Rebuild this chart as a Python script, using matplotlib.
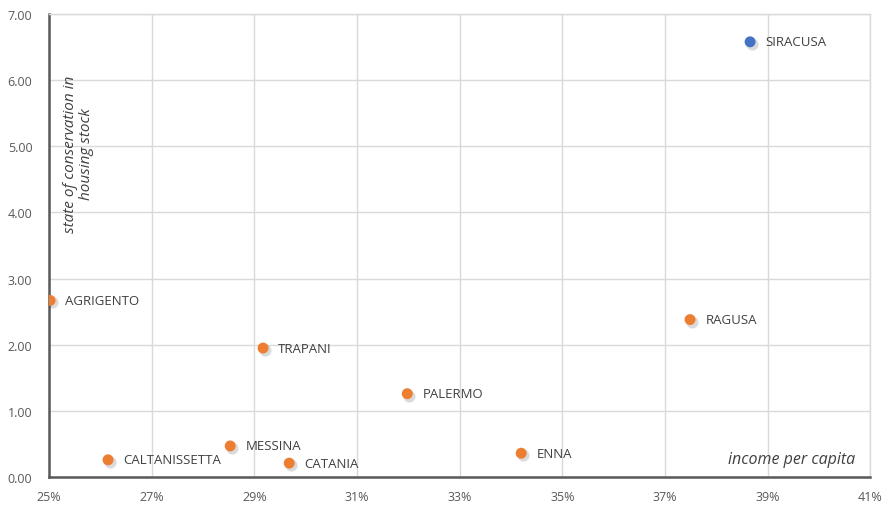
import matplotlib.pyplot as plt
from matplotlib.ticker import FuncFormatter

# province, income per capita (%), state of conservation
provinces = ['SIRACUSA', 'AGRIGENTO', 'RAGUSA', 'TRAPANI', 'PALERMO',
             'MESSINA', 'CALTANISSETTA', 'CATANIA', 'ENNA']
income = [38.66, 25.02, 37.49, 29.17, 31.98, 28.53, 26.15, 29.68, 34.20]
conservation = [6.58, 2.67, 2.38, 1.95, 1.26, 0.47, 0.26, 0.21, 0.36]
colors = ['#4472C4'] + ['#ED7D31'] * 8

xticks = [25, 27, 29, 31, 33, 35, 37, 39, 41]
yticks = [0, 1, 2, 3, 4, 5, 6, 7]

plt.rcParams['font.family'] = ['Open Sans', 'DejaVu Sans']
grey = '#595959'

fig = plt.figure(figsize=(8.82, 5.06), dpi=100)
ax = fig.add_axes([0.0556, 0.0553, 0.931, 0.915])

# soft shadow under each marker
for k, a in [(1.0, 0.04), (0.6, 0.05), (0.3, 0.06)]:
    ax.scatter([x + 0.04 for x in income], [y - 0.03 for y in conservation],
               s=58 + 30 * k, color='#000000', alpha=a, linewidths=0, zorder=3)
ax.scatter(income, conservation, s=62, c=colors, linewidths=0, zorder=4)

for name, x, y in zip(provinces, income, conservation):
    ax.annotate(name, (x, y), xytext=(11, 0), textcoords='offset points',
                va='center', ha='left', fontsize=9.5, color='#404040', zorder=5)

ax.set_xlim(25, 41)
ax.set_ylim(0, 7)
ax.set_xticks(xticks)
ax.set_yticks(yticks)
ax.xaxis.set_major_formatter(FuncFormatter(lambda v, p: '{:.0f}%'.format(v)))
ax.yaxis.set_major_formatter(FuncFormatter(lambda v, p: '{:.2f}'.format(v)))
ax.tick_params(length=0, labelsize=9, labelcolor=grey)
ax.tick_params(axis='x', pad=9)
ax.tick_params(axis='y', pad=12)

ax.grid(True, color='#d9d9d9', linewidth=1)
ax.set_axisbelow(True)
for s in ['top', 'right']:
    ax.spines[s].set_color('#d9d9d9')
    ax.spines[s].set_linewidth(1)
for s in ['left', 'bottom']:
    ax.spines[s].set_color(grey)
    ax.spines[s].set_linewidth(1.8)

ax.text(25.58, 4.9, 'state of conservation in\nhousing stock', rotation=90,
        ha='center', va='center', style='italic', fontsize=11, color='#404040',
        multialignment='center', linespacing=1.1)
ax.text(40.7, 0.27, 'income per capita', ha='right', va='center',
        style='italic', fontsize=11.5, color='#404040')

fig.savefig('out.png', dpi=100)
